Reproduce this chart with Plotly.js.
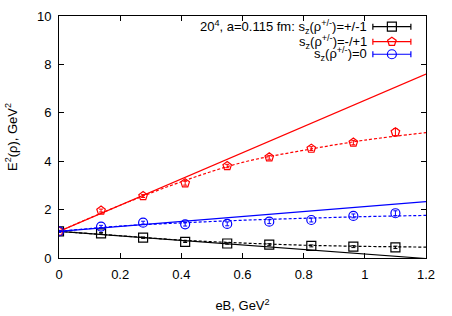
<!DOCTYPE html>
<html><head><meta charset="utf-8">
<script src="https://cdn.plot.ly/plotly-3.0.1.min.js"></script>
<style>body{margin:0;background:#fff}#c{width:452px;height:316px}</style>
</head><body><div id="c"></div>
<script>
// data
const eB = [0, 0.1375, 0.275, 0.4125, 0.55, 0.6875, 0.825, 0.9625, 1.1];
const eSzPM1 = [1.1, 1.02, 0.84, 0.67, 0.60, 0.55, 0.50, 0.47, 0.44];
const errPM1 = [0.03, 0.03, 0.03, 0.03, 0.03, 0.04, 0.04, 0.04, 0.05];
const eSzMP1 = [1.1, 1.96, 2.56, 3.09, 3.80, 4.16, 4.52, 4.77, 5.20];
const errMP1 = [0.04, 0.06, 0.06, 0.08, 0.07, 0.08, 0.08, 0.09, 0.15];
const eSz0 = [1.1, 1.30, 1.46, 1.39, 1.41, 1.50, 1.57, 1.74, 1.85];
const err0 = [0.04, 0.05, 0.06, 0.07, 0.08, 0.08, 0.08, 0.08, 0.10];
// fit curves
const fitX = [0, 0.2, 0.4, 0.6, 0.8, 1.0, 1.2];
const fitPM1 = [1.1, 0.92, 0.74, 0.62, 0.53, 0.48, 0.45];
const fitMP1 = [1.1, 2.18, 3.15, 3.95, 4.45, 4.87, 5.18];
const fit0 = [1.1, 1.32, 1.45, 1.56, 1.64, 1.71, 1.76];
// straight lines (lowest Landau level)
const lineX = [0, 1.2];
const linePM1 = [1.1, -0.02];
const lineMP1 = [1.1, 7.6];
const line0 = [1.1, 2.33];
const labels = [
  "20<sup>4</sup>, a=0.115 fm: s<sub>z</sub>(ρ<sup>+/-</sup>)=+/-1",
  "s<sub>z</sub>(ρ<sup>+/-</sup>)=-/+1",
  "s<sub>z</sub>(ρ<sup>+/-</sup>)=0"
];
const colors = ['#000000', '#ff0000', '#0000ff'];
const symbols = ['square-open', 'pentagon-open', 'circle-open'];

const traces = [];
const sets = [[eSzPM1, errPM1, fitPM1, linePM1], [eSzMP1, errMP1, fitMP1, lineMP1], [eSz0, err0, fit0, line0]];
sets.forEach((s, i) => {
  traces.push({x: lineX, y: s[3], mode: 'lines', line: {color: colors[i], width: 1.2}, hoverinfo: 'skip'});
  traces.push({x: fitX, y: s[2], mode: 'lines', line: {color: colors[i], width: 1.2, dash: '3px,2px', shape: 'spline'}, hoverinfo: 'skip'});
  traces.push({x: eB, y: s[0], mode: 'markers', marker: {symbol: symbols[i], size: 9, color: colors[i], line: {width: 1.2, color: colors[i]}},
    error_y: {type: 'data', array: s[1], color: colors[i], thickness: 1, width: 2}});
});
// legend samples on overlay axes
const legY = [0.956, 0.894, 0.842];
labels.forEach((t, i) => {
  traces.push({x: [0.907], y: [legY[i]], xaxis: 'x2', yaxis: 'y2', mode: 'markers',
    marker: {symbol: symbols[i], size: 9, color: colors[i], line: {width: 1.2, color: colors[i]}},
    error_x: {type: 'data', array: [0.0518], color: colors[i], thickness: 1.2, width: 3}});
});
const annotations = labels.map((t, i) => ({xref: 'paper', yref: 'paper', x: 0.845, y: legY[i], xanchor: 'right', yanchor: 'middle',
  text: t, showarrow: false, font: {size: 13, color: '#000'}}));

const ax = {showgrid: false, zeroline: false, showline: true, mirror: 'ticks', linecolor: '#000', linewidth: 1,
  ticks: 'inside', ticklen: 5, tickcolor: '#000', tickfont: {size: 13, color: '#000'}};
const layout = {
  width: 452, height: 316, margin: {l: 59, r: 26, t: 16, b: 58},
  showlegend: false, paper_bgcolor: '#fff', plot_bgcolor: '#fff',
  font: {family: 'Liberation Sans, Arial, sans-serif', color: '#000'},
  xaxis: Object.assign({}, ax, {range: [0, 1.2], tickvals: [0, 0.2, 0.4, 0.6, 0.8, 1, 1.2], ticktext: ['0', '0.2', '0.4', '0.6', '0.8', '1', '1.2'],
    ticklabelstandoff: 4, title: {text: 'eB, GeV<sup>2</sup>', font: {size: 13}, standoff: 20}}),
  yaxis: Object.assign({}, ax, {range: [0, 10], tickvals: [0, 2, 4, 6, 8, 10], ticklabelstandoff: 4,
    title: {text: 'E<sup>2</sup>(ρ), GeV<sup>2</sup>', font: {size: 13}, standoff: 16}}),
  xaxis2: {overlaying: 'x', range: [0, 1], visible: false, fixedrange: true},
  yaxis2: {overlaying: 'y', range: [0, 1], visible: false, fixedrange: true},
  annotations: annotations
};
Plotly.newPlot('c', traces, layout, {displayModeBar: false, staticPlot: true});
</script></body></html>
